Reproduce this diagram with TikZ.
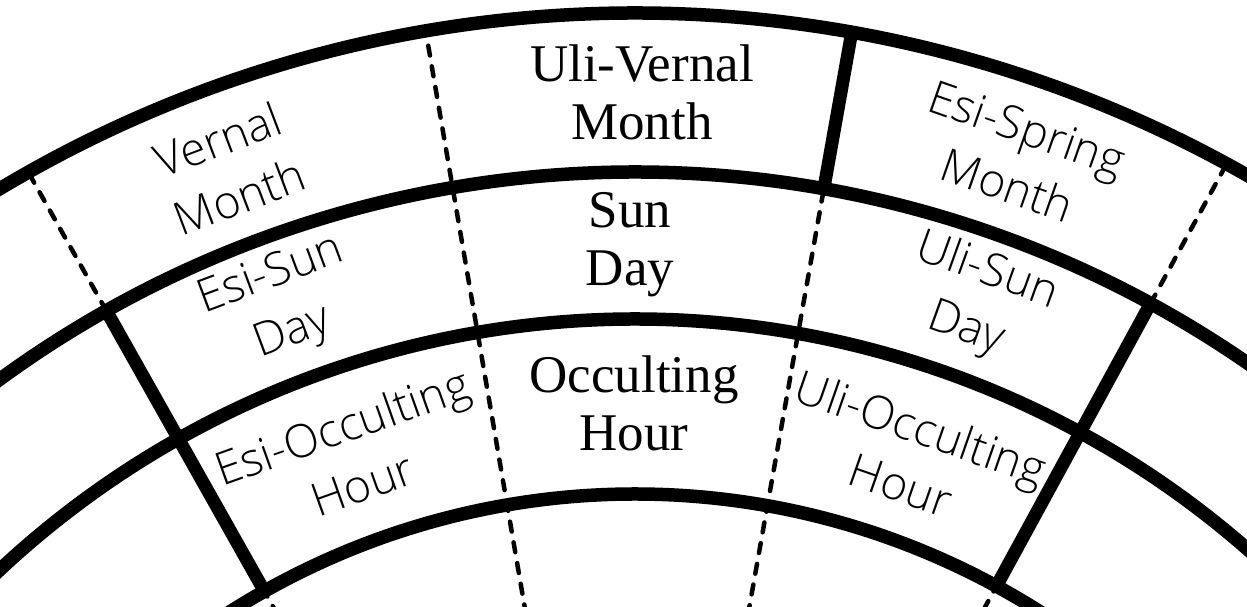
\documentclass[tikz,border=0pt]{standalone}
\usepackage{fontspec}
\setmainfont{Liberation Serif}
\newfontfamily\lightsans{Open Sans Light}
\begin{document}
\begin{tikzpicture}[x=1pt,y=1pt,
  ringline/.style={line width=13.5pt},
  solidradial/.style={line width=13pt},
  dashradial/.style={line width=4.5pt, dash pattern=on 10pt off 11pt, line cap=round},
  seriflabel/.style={align=center, inner sep=0pt, font=\fontsize{53}{58}\selectfont},
  sanslabel/.style={align=center, inner sep=0pt, font=\lightsans\fontsize{46}{61}\selectfont}]
\useasboundingbox (0,0) rectangle (1247,-606);
\clip (0,0) rectangle (1247,-606);
\begin{scope}[shift={(635,-1249)}]
  \coordinate (C) at (0,0);
  % radial dividers
  \draw[dashradial] (119.4:1077) -- (119.4:1236);
  \draw[solidradial] (119.4:755) -- (119.4:1077);
  \draw[dashradial] (119.4:560) -- (119.4:755);
  \draw[dashradial] (99.75:560) -- (99.75:1236);
  \draw[solidradial] (79.9:1077) -- (79.9:1236);
  \draw[dashradial] (79.9:560) -- (79.9:1077);
  \draw[dashradial] (61.4:1077) -- (61.4:1236);
  \draw[solidradial] (61.4:755) -- (61.4:1077);
  \draw[dashradial] (61.4:560) -- (61.4:755);
  % rings
  \draw[ringline] (40:1236) arc[start angle=40, end angle=140, radius=1236];
  \draw[ringline] (40:1077) arc[start angle=40, end angle=140, radius=1077];
  \draw[ringline] (40:930) arc[start angle=40, end angle=140, radius=930];
  \draw[ringline] (40:755) arc[start angle=40, end angle=140, radius=755];
  % centre labels
  \node[seriflabel] (uvm) at (7,1157) {Uli-Vernal\\Month};
  \node[seriflabel] (sd) at (-5,1004) {Sun\\Day};
  \node[seriflabel] (oh) at (-1,846) {Occulting\\Hour};
  % side labels
  \node[sanslabel, rotate=20.8] (vm) at (110.6:1155) {Vernal\\Month};
  \node[sanslabel, rotate=-19.3] (esm) at (70.7:1157) {Esi-Spring\\Month};
  \node[sanslabel, rotate=20.5] (esd) at (110.5:1008) {Esi-Sun\\Day};
  \node[sanslabel, rotate=-19.8] (usd) at (70.2:1008) {Uli-Sun\\Day};
  \node[sanslabel, rotate=19.6] (eoh) at (109.6:843) {Esi-Occulting\\Hour};
  \node[sanslabel, rotate=-19.2] (uoh) at (70.8:840) {Uli-Occulting\\Hour};
\end{scope}
\end{tikzpicture}
\end{document}
